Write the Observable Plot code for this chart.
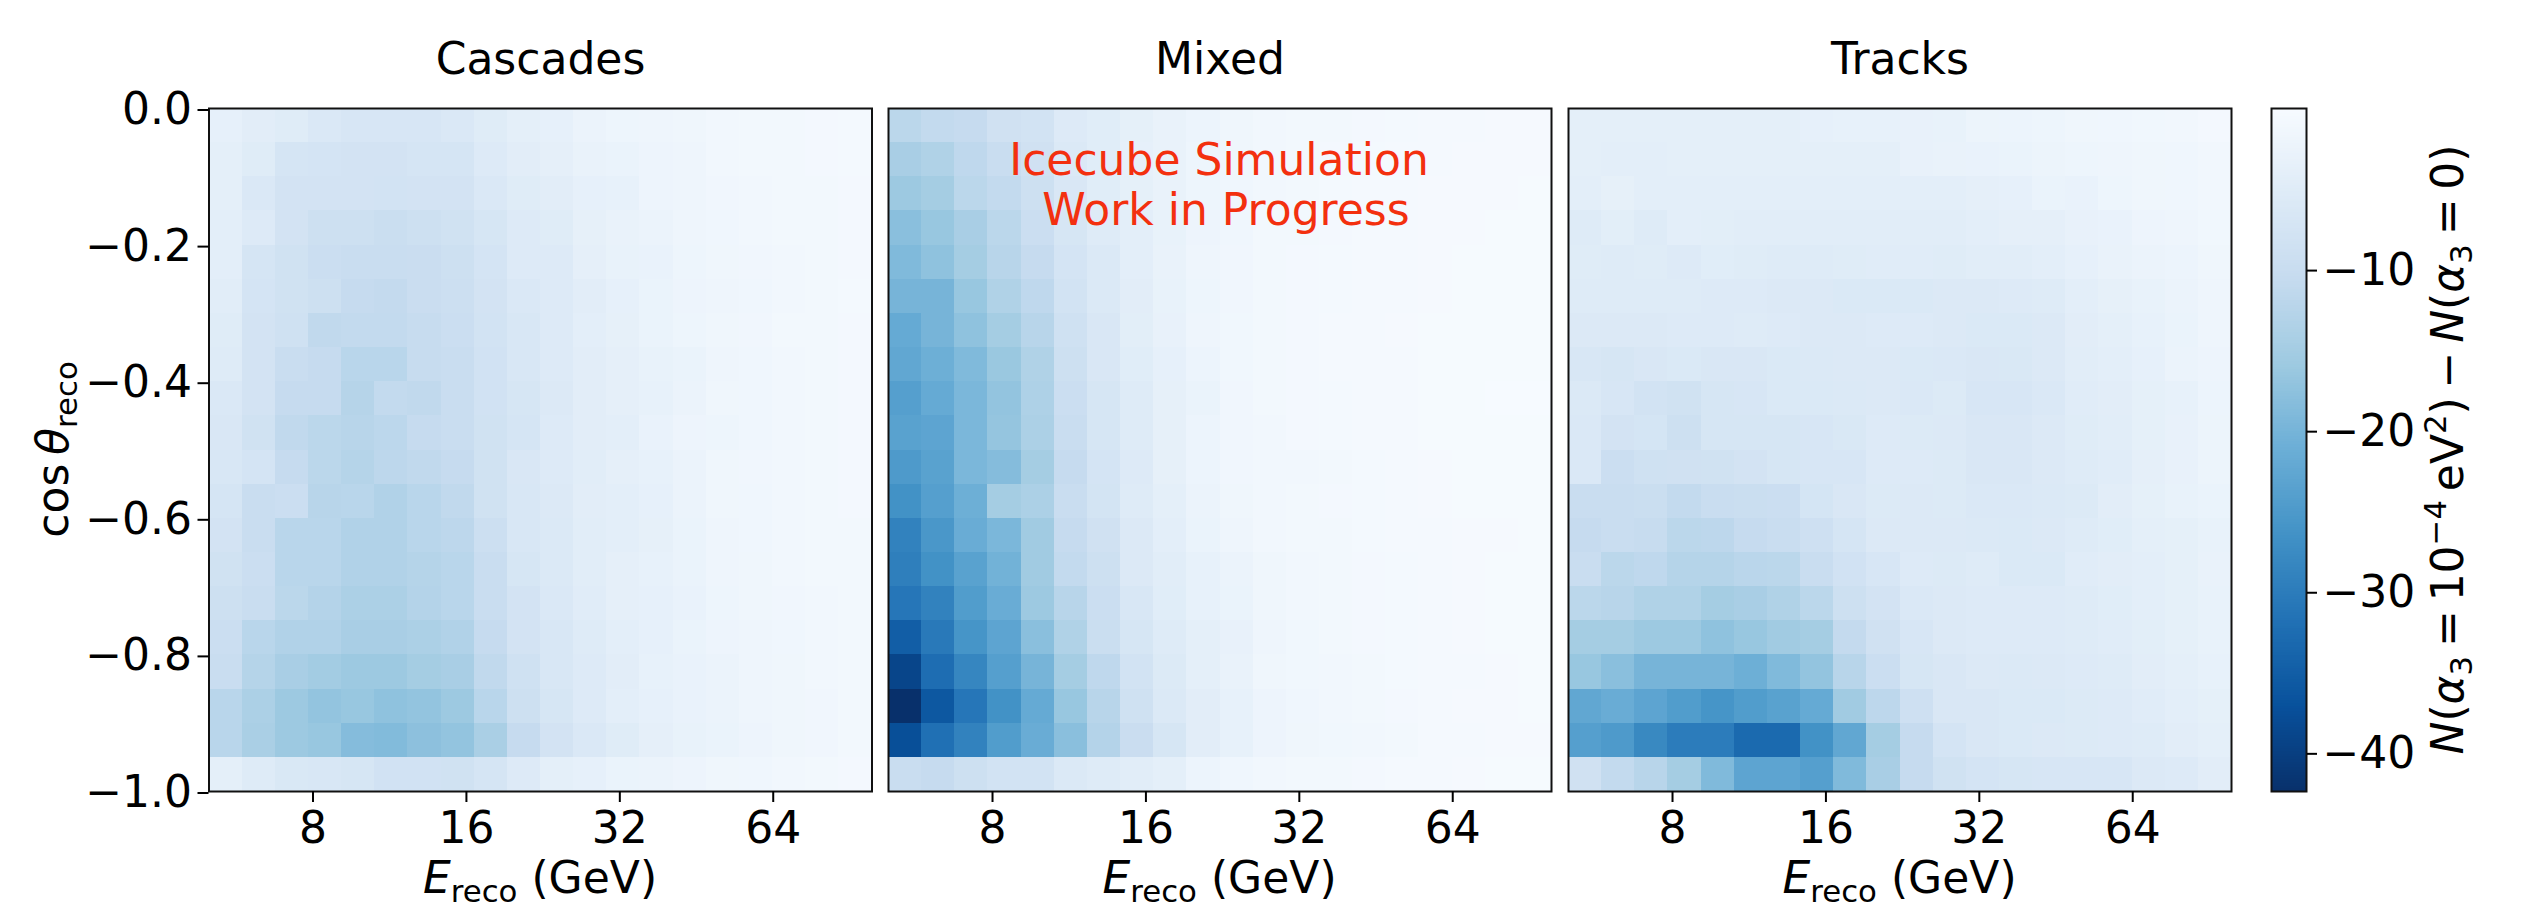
<!DOCTYPE html>
<html>
<head>
<meta charset="utf-8">
<script src="https://cdn.jsdelivr.net/npm/d3@7"></script>
<script src="https://cdn.jsdelivr.net/npm/@observablehq/plot@0.6"></script>
<style>
html,body{margin:0;padding:0;background:#fff;width:2532px;height:909px;overflow:hidden}
#chart{position:relative;width:2532px;height:909px}
#chart svg{position:absolute;top:0;overflow:visible;background:transparent}
</style>
</head>
<body>
<div id="chart"></div>
<script>
const panelNames = ["Cascades", "Mixed", "Tracks"];
const xTickValues = [8, 16, 32, 64];
const yTickValues = [0, -0.2, -0.4, -0.6, -0.8, -1];
const colorTickValues = [-10, -20, -30, -40];
const colorStops = ["#f7fbff","#deebf7","#c6dbef","#9ecae1","#6baed6","#4292c6","#2171b5","#08519c","#08306b"];
const annotation = ["Icecube Simulation", "\u00a0Work in Progress"];

const cascades = [
[-3.5,-4.5,-5,-6.2,-6.8,-6.8,-6.8,-6.2,-5,-4,-3.5,-2.5,-2.1,-1.9,-1.7,-1.2,-1.1,-1,-0.9,-0.8],
[-4,-5,-7.2,-7.6,-7.8,-7.8,-7.2,-7.2,-5.6,-4.5,-3.9,-3,-2.8,-2.2,-2,-1.3,-1.1,-1,-0.9,-0.8],
[-4,-6.2,-7.8,-7.8,-7.8,-8,-7.8,-7.8,-6.2,-5,-4.5,-3.6,-3.4,-2.2,-2,-1.5,-1.2,-1.1,-1,-0.9],
[-4.2,-5.6,-7.8,-9,-9,-9.7,-9,-8.4,-7,-5.6,-5,-3.7,-3,-2.6,-2,-1.6,-1.3,-1.1,-1,-0.9],
[-4.3,-7.3,-8.4,-9.5,-10,-10,-9.8,-9,-7.6,-5.6,-5.6,-3.9,-3.1,-2.9,-2.1,-1.7,-1.5,-1.2,-1,-0.9],
[-4.7,-7.6,-8.4,-9,-10.6,-10.8,-9.8,-9.2,-7.8,-6.2,-5.6,-4.5,-3.6,-2.8,-2.2,-1.9,-1.6,-1.3,-1.1,-0.8],
[-5,-7.8,-8.7,-11.2,-11,-11,-10.3,-9.5,-8,-6.7,-5.6,-4.3,-3.7,-2.8,-2.1,-1.8,-1.5,-1.1,-1.1,-0.9],
[-5.3,-7.8,-10,-10.6,-12.3,-12.3,-10.4,-10,-8.2,-6.7,-5.6,-4.5,-3.9,-3.1,-2.8,-1.9,-1.6,-1.3,-1.1,-0.9],
[-6.2,-7.8,-10.6,-10.6,-12.7,-11,-11.2,-10,-8.2,-7,-5.8,-4.5,-3.9,-3.4,-2.5,-1.8,-1.6,-1.3,-1.1,-0.9],
[-6.5,-8.4,-11.2,-12,-12.5,-11.9,-10.6,-10,-8.4,-7.3,-5.6,-4.5,-4.3,-2.9,-2.2,-2.1,-1.6,-1.2,-1,-0.9],
[-6.7,-7.6,-10.6,-12,-12.9,-11.8,-11.2,-10.6,-8.4,-6.5,-5.6,-4.7,-3.9,-3.4,-2.5,-1.7,-1.5,-1.2,-1,-0.9],
[-7.3,-9.9,-9.5,-12.5,-12.3,-13.4,-12.3,-11.2,-8.4,-6.7,-5.8,-4.5,-4.3,-3.6,-2.6,-1.8,-1.6,-1.3,-1.1,-0.9],
[-7.8,-9.9,-12.3,-12.3,-13.4,-13.4,-12.3,-11.8,-9.2,-6.7,-5.9,-4.7,-4.3,-3.7,-2.7,-2,-1.6,-1.3,-1.1,-1],
[-8.4,-9.5,-12.3,-12.3,-13.4,-13.4,-12.9,-12.3,-10,-7,-5.9,-4.7,-3.9,-3.4,-2.8,-2,-1.7,-1.3,-1.1,-1],
[-9,-9.9,-12,-13,-14,-14,-13,-12.3,-10,-7.8,-6.2,-4.9,-3.9,-3.6,-2.9,-2.1,-1.8,-1.5,-1.2,-1],
[-9.5,-12.3,-13.4,-13.4,-14.5,-14.5,-14,-13.4,-10.6,-7.8,-6.7,-5.4,-4.3,-3.6,-2.8,-2.2,-1.9,-1.6,-1.2,-1],
[-10,-12.9,-14.5,-15.3,-16,-16,-15,-14.5,-11.2,-8.6,-6.7,-5.6,-4.5,-3.4,-2.9,-2.5,-2,-1.7,-1.3,-1],
[-12.3,-14,-16,-17,-16.5,-17.5,-17,-16,-12.3,-9,-7,-5.6,-4.3,-3.6,-2.9,-2.5,-2,-1.7,-1.5,-1.1],
[-12.3,-14.3,-16,-16.5,-18.5,-18.8,-17.7,-17,-14.3,-10.6,-7.8,-6.2,-5,-3.9,-3.1,-2.7,-2.2,-1.8,-1.5,-1.1],
[-4.1,-5.4,-6.4,-6.7,-7,-8.2,-8.2,-8.4,-7.3,-5.6,-4.1,-3.6,-2.8,-2.6,-2.2,-1.8,-1.6,-1.3,-1.1,-0.9]
];

const mixed = [
[-12,-11,-10.5,-8.5,-8,-5.5,-4.8,-3.8,-3,-2.3,-1.8,-1.3,-1.1,-1,-0.9,-0.8,-0.7,-0.6,-0.5,-0.5],
[-14.5,-13.5,-11.5,-10,-8.5,-6,-4.8,-3.6,-3,-2.1,-1.7,-1.3,-1.1,-0.9,-0.8,-0.7,-0.6,-0.5,-0.5,-0.5],
[-16,-15,-12,-11,-9,-6.5,-4.8,-3.8,-3,-2.1,-1.6,-1.2,-1,-0.8,-0.7,-0.6,-0.5,-0.5,-0.5,-0.4],
[-18,-16.5,-14.5,-12,-9.5,-7,-5.4,-4.2,-3.1,-2.2,-1.6,-1.1,-1,-0.9,-0.7,-0.6,-0.5,-0.5,-0.4,-0.4],
[-19,-17.5,-15,-12.5,-10.5,-7.5,-6,-4.2,-3,-2,-1.5,-1.1,-0.9,-0.8,-0.7,-0.6,-0.5,-0.4,-0.4,-0.4],
[-20,-20,-16.5,-13.5,-11.5,-8,-6,-4.5,-3.1,-2.1,-1.5,-1.1,-0.9,-0.8,-0.7,-0.6,-0.5,-0.4,-0.4,-0.4],
[-22,-20,-17.5,-15,-12.5,-8.6,-6.5,-4.4,-3.2,-1.9,-1.4,-1,-0.9,-0.7,-0.6,-0.5,-0.4,-0.4,-0.4,-0.4],
[-22.5,-21,-19,-16.3,-13.5,-9,-6.5,-4.8,-3.5,-2.3,-1.4,-1.1,-0.9,-0.7,-0.7,-0.6,-0.4,-0.4,-0.4,-0.4],
[-24,-22,-19.5,-17,-13.8,-9.5,-7,-5.3,-3.7,-2.8,-1.5,-1.1,-0.9,-0.8,-0.7,-0.6,-0.4,-0.4,-0.3,-0.3],
[-23.5,-23,-19.5,-16.8,-14,-10,-7,-5.3,-3.7,-2.3,-1.5,-1.2,-0.9,-0.8,-0.7,-0.6,-0.4,-0.4,-0.4,-0.4],
[-25,-23.5,-19.5,-18.5,-15,-10.5,-7.5,-5.5,-3.7,-2.3,-1.5,-1.3,-1.2,-1,-0.8,-0.7,-0.5,-0.4,-0.4,-0.4],
[-26.5,-24,-21,-15,-14,-10,-7.7,-5.3,-4,-2.5,-1.7,-1.3,-1.1,-0.9,-0.8,-0.7,-0.5,-0.4,-0.4,-0.4],
[-29,-25.5,-21.5,-19.5,-15.5,-10.5,-8.5,-5.8,-4.2,-2.8,-2,-1.3,-1.1,-1,-0.8,-0.7,-0.6,-0.5,-0.5,-0.4],
[-29.5,-26.5,-23.5,-20.5,-15.5,-11,-9,-5.8,-4.6,-3.4,-2.6,-1.7,-1.3,-1,-0.9,-0.8,-0.6,-0.5,-0.4,-0.4],
[-31,-29,-24.5,-21.5,-16,-12.5,-9.5,-6.6,-4.8,-3.4,-2.7,-1.7,-1.3,-1.1,-0.9,-0.8,-0.6,-0.5,-0.4,-0.4],
[-35,-30.5,-26,-23,-18,-13.5,-9.7,-7,-5.2,-4,-3.2,-1.9,-1.4,-1.1,-0.9,-0.8,-0.6,-0.5,-0.4,-0.4],
[-39,-32.5,-28.5,-24,-20,-15,-11.5,-8,-5.7,-4,-3,-1.8,-1.4,-1.2,-1,-0.8,-0.6,-0.6,-0.5,-0.4],
[-42.4,-36,-31,-26.5,-22,-16.5,-12.5,-8.7,-6,-4.5,-3.4,-2.2,-1.6,-1.3,-1.1,-0.9,-0.6,-0.5,-0.5,-0.4],
[-37.5,-32,-29,-24.5,-21.5,-18,-13,-9.8,-7,-4.5,-3.4,-2.2,-1.7,-1.4,-1.2,-1,-0.7,-0.6,-0.5,-0.5],
[-10,-10.5,-9,-8,-8,-6,-5.2,-4.7,-4,-2.3,-1.6,-1.2,-1.1,-1,-0.9,-0.7,-0.6,-0.5,-0.4,-0.4]
];

const tracks = [
[-4,-4,-4,-4,-4,-4,-4,-3.6,-3.4,-3.4,-3.2,-3.1,-2.4,-2.3,-2.1,-1.8,-1.6,-1.4,-1.2,-0.9],
[-4,-4.3,-4.3,-4,-4,-4,-4,-4,-4,-4,-3.2,-3,-2.9,-2.8,-2.4,-2.1,-2,-1.8,-1.6,-1.2],
[-4.2,-3.7,-4.2,-4.2,-4.2,-4.2,-4.2,-4.2,-4.2,-4.2,-4.2,-4.2,-3.9,-3.6,-2.8,-2.9,-2.1,-1.8,-1.6,-1.2],
[-5.2,-4.4,-5.3,-4.3,-4.4,-4.6,-4.6,-4.6,-4.6,-4.6,-4.6,-4.6,-4.2,-3.9,-3.9,-3.2,-2.9,-2.2,-2,-1.4],
[-5.1,-5.2,-5.1,-5.6,-4.8,-5.1,-5.2,-5.2,-5.1,-4.9,-4.9,-5.1,-4.6,-4.6,-4.2,-3.6,-3,-2.6,-2.3,-1.7],
[-5.2,-5.2,-5.2,-5.2,-5.6,-5.6,-5.8,-5.8,-6.1,-6.1,-6.1,-5.8,-5.8,-5.6,-5.2,-4.3,-3.7,-3.1,-2.6,-1.9],
[-5.8,-5.8,-5.8,-5.6,-5.6,-5.2,-5.5,-5.8,-5.8,-5.5,-5.6,-5.8,-6.1,-6.1,-5.8,-4.5,-4.1,-3.4,-2.7,-2],
[-6.7,-7,-6.5,-6.1,-6.5,-6.5,-6.1,-6,-5.8,-5.8,-6.1,-6.2,-6.5,-6.3,-5.8,-4.6,-4.2,-3.5,-2.5,-2.2],
[-6,-6.9,-8,-8.4,-7.1,-6.8,-6.1,-6.1,-6,-5.8,-6.2,-5.7,-6.9,-6.9,-6.2,-4.9,-4.5,-3.8,-3.3,-2.3],
[-6.2,-7.8,-7.4,-9,-7.1,-7.1,-7.1,-6.9,-6.4,-5.6,-5.7,-5.8,-6.5,-6.5,-5.8,-5,-4.6,-3.8,-3.2,-2.4],
[-6.2,-9.5,-8.6,-8.5,-8.4,-7.8,-7.1,-6.8,-6.8,-5.5,-5.6,-5.7,-6.5,-6.5,-5.8,-5.2,-4.9,-3.9,-3.2,-2.4],
[-10,-10,-9.7,-11,-10,-9.7,-9.5,-7.4,-6.5,-5.7,-5.8,-5.7,-6.2,-6.2,-6,-5.7,-4.5,-3.8,-3.1,-2.8],
[-10.5,-10,-10.4,-12,-11.8,-10.5,-10,-8.8,-7.3,-5.8,-5.8,-5.8,-6,-6.1,-5.8,-5.2,-4.8,-4,-3.8,-3.1],
[-10,-12,-11.5,-12.8,-12.8,-12.2,-12,-10,-8.2,-6.9,-5.5,-5.7,-5.2,-6.1,-6.1,-4.9,-4.5,-4.2,-3.8,-3],
[-12,-12.5,-13.5,-13.5,-15,-14.5,-13.5,-12,-9,-7.8,-6.2,-5.8,-5.6,-5.6,-5.5,-5.2,-4.8,-4.3,-3.8,-3.1],
[-15,-15,-16,-16,-17.5,-16.5,-15.5,-15,-10.8,-8.5,-6.9,-5.8,-5.6,-5.6,-5.6,-5.2,-4.9,-4.4,-3.8,-3.1],
[-16.5,-18,-20,-20,-20,-21,-19,-17,-12.5,-9.5,-7.1,-6.5,-5.8,-6,-5.8,-5.6,-5.2,-4.5,-4,-3.4],
[-22.5,-21.5,-23,-24.5,-26,-24.5,-23.5,-22,-15.5,-11.8,-8.8,-6.5,-6.5,-6.1,-6.1,-5.7,-5.6,-4.9,-4.3,-3.8],
[-24,-25,-28,-30,-30,-33,-33,-26.5,-22.5,-15,-10.5,-7.5,-6.5,-6.1,-5.8,-5.7,-5.5,-5.2,-4.5,-4],
[-8.5,-11,-12.5,-15,-19,-23,-23,-24,-19,-14.5,-10.5,-8.3,-7.5,-7.1,-6.9,-6.8,-6.8,-5.8,-5.6,-4.5]
];

const panelValues = [cascades, mixed, tracks];

// Layout
const W = 2532, H = 909, TOP = 108, BOTTOM = 791;
const panelLeft = [208.5, 888, 1568];
const panelWidth = 663;
const FONT = "DejaVu Sans";
const FS = 44;
const colorMin = -42.4, colorMax = 0;
const ns = "http://www.w3.org/2000/svg";

const colorDomain = colorStops.map((_, i) => colorMax + (colorMin - colorMax) * i / (colorStops.length - 1));
const colorOpts = {type: "linear", domain: colorDomain, range: colorStops, interpolate: "rgb", clamp: true};

const EMIN = 5, EMAX = 100, NBIN = 20;
const energyEdge = i => EMIN * Math.pow(EMAX / EMIN, i / NBIN);
const cosEdge = r => -r / NBIN;

function addRich(svg, {x, y, rotate, parts}) {
  const t = document.createElementNS(ns, "text");
  t.setAttribute("font-family", FONT);
  t.setAttribute("font-size", FS);
  t.setAttribute("fill", "black");
  t.setAttribute("text-anchor", "middle");
  t.setAttribute("transform", rotate ? `translate(${x},${y}) rotate(${rotate})` : `translate(${x},${y})`);
  let shift = 0;
  for (const p of parts) {
    const s = document.createElementNS(ns, "tspan");
    s.textContent = p.t;
    if (p.italic) s.setAttribute("font-style", "italic");
    const target = p.sub ? 0.2 * FS : p.sup ? -0.38 * FS : 0;
    s.setAttribute("dy", target - shift);
    shift = target;
    if (p.sub || p.sup) s.setAttribute("font-size", FS * 0.7);
    t.appendChild(s);
  }
  svg.appendChild(t);
}

const Ereco = [{t: "E", italic: true}, {t: "reco", sub: true}, {t: " (GeV)"}];
const cosLabel = [{t: "cos\u2009"}, {t: "\u03b8", italic: true}, {t: "reco", sub: true}];
const barLabel = [
  {t: "N", italic: true}, {t: "("}, {t: "\u03b1", italic: true}, {t: "3", sub: true},
  {t: "\u2009=\u200910"}, {t: "\u22124", sup: true}, {t: "\u2009eV"}, {t: "2", sup: true}, {t: ")\u2009\u2212\u2009"},
  {t: "N", italic: true}, {t: "("}, {t: "\u03b1", italic: true}, {t: "3", sub: true}, {t: "\u2009=\u20090)"}
];

const chart = document.getElementById("chart");

panelNames.forEach((name, p) => {
  const cells = panelValues[p].flatMap((row, r) => row.map((v, c) => ({
    x1: energyEdge(c), x2: energyEdge(c + 1), y1: cosEdge(r), y2: cosEdge(r + 1), v
  })));
  const first = p === 0;
  const offset = first ? 0 : panelLeft[p] - 30;
  const mL = panelLeft[p] - offset;
  const marks = [
    Plot.rect(cells, {x1: "x1", x2: "x2", y1: "y1", y2: "y2", fill: "v", shapeRendering: "crispEdges"}),
    Plot.frame({stroke: "#111", strokeWidth: 2}),
    Plot.axisX({ticks: xTickValues, tickFormat: () => "", tickSize: 11, label: null, strokeWidth: 2}),
    Plot.text(xTickValues, {x: d => d, text: d => String(d), frameAnchor: "bottom", lineAnchor: "top", dy: 20,
      fontSize: FS, fontFamily: FONT, fill: "black"}),
    Plot.text([name], {frameAnchor: "top", dy: -66, lineAnchor: "top", fontSize: FS, fontFamily: FONT, fill: "black"})
  ];
  if (first) {
    marks.push(Plot.axisY({ticks: yTickValues, tickFormat: d3.format(".1f"), tickSize: 11, tickPadding: 6,
      label: null, fontSize: FS, fontFamily: FONT, fill: "black", strokeWidth: 2, dy: 1.5}));
  }
  if (p === 1) {
    marks.push(Plot.text([annotation.join("\n")], {frameAnchor: "top", dx: -1, dy: 31, lineAnchor: "top",
      lineHeight: 1.13, fontSize: FS, fontFamily: FONT, fill: "#f3300f"}));
  }
  const plot = Plot.plot({
    width: mL + panelWidth + 30,
    height: H,
    marginLeft: mL, marginRight: 30, marginTop: TOP, marginBottom: H - BOTTOM,
    style: {background: "transparent", overflow: "visible"},
    x: {type: "log", domain: [EMIN, EMAX], axis: null},
    y: {domain: [-1, 0], axis: null},
    color: colorOpts,
    marks
  });
  plot.style.left = offset + "px";
  addRich(plot, {x: mL + panelWidth / 2, y: 893, parts: Ereco});
  if (first) addRich(plot, {x: 68, y: 449.5, rotate: -90, parts: cosLabel});
  chart.appendChild(plot);
});

// Colour bar
const barLeft = 2271, barWidth = 35;
const LEVELS = 256;
const barCells = d3.range(LEVELS).map(i => {
  const y1 = colorMax + (colorMin - colorMax) * i / LEVELS;
  const y2 = colorMax + (colorMin - colorMax) * (i + 1) / LEVELS;
  return {y1, y2, v: (y1 + y2) / 2};
});
const bar = Plot.plot({
  width: W - barLeft + 20,
  height: H,
  marginLeft: 20, marginRight: W - barLeft - barWidth, marginTop: TOP, marginBottom: H - BOTTOM,
  style: {background: "transparent", overflow: "visible"},
  x: {domain: [0, 1], axis: null},
  y: {domain: [colorMin, colorMax], axis: null},
  color: colorOpts,
  marks: [
    Plot.rect(barCells, {x1: 0, x2: 1, y1: "y1", y2: "y2", fill: "v", shapeRendering: "crispEdges"}),
    Plot.frame({stroke: "#111", strokeWidth: 2}),
    Plot.axisY({anchor: "right", ticks: colorTickValues, tickFormat: d3.format("d"), tickSize: 10, tickPadding: 6,
      label: null, fontSize: FS, fontFamily: FONT, fill: "black", strokeWidth: 2, dy: 1})
  ]
});
bar.style.left = (barLeft - 20) + "px";
addRich(bar, {x: 2463 - (barLeft - 20), y: 449.5, rotate: -90, parts: barLabel});
chart.appendChild(bar);
</script>
</body>
</html>
